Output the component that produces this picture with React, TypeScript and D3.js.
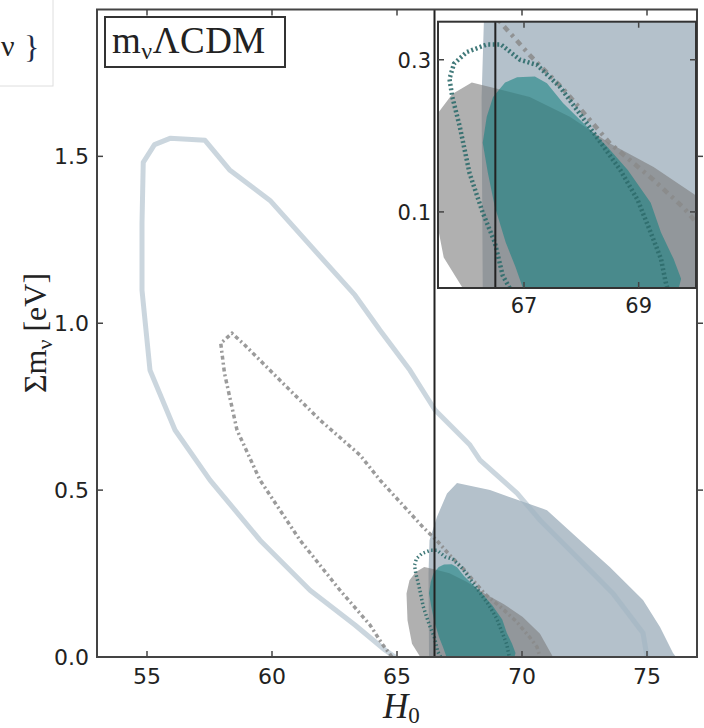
import React from "react";
import * as d3 from "d3";

// ---------- data (H0, sum m_nu) ----------
const xTicks = [55, 60, 65, 70, 75];
const yTicks = [0.0, 0.5, 1.0, 1.5];
const insetXTicks = [67, 69];
const insetYTicks = [0.1, 0.3];
const refH0 = 66.5;

// large light outline (open contour, clipped at zero)
const outerOutline: [number, number][] = [
  [64.92, 0], [64.52, 0.021], [63.32, 0.096], [61.52, 0.2], [59.52, 0.35], [57.52, 0.53],
  [56.12, 0.68], [55.12, 0.859], [54.8, 1.099], [54.8, 1.3], [54.85, 1.482], [55.3, 1.535],
  [55.92, 1.554], [57.32, 1.548], [58.32, 1.458], [59.92, 1.368], [61.52, 1.234], [63.32, 1.084],
  [64.32, 0.979], [65.52, 0.859], [66.52, 0.74], [67.92, 0.635], [68.32, 0.59], [69.8, 0.491],
  [70.72, 0.41], [72.32, 0.29], [73.64, 0.19], [74.84, 0.072], [75.0, 0],
];

// grey dash-dot contour
const greyDotted: [number, number][] = [
  [64.8, 0], [64.4, 0.04], [63.92, 0.096], [62.72, 0.2], [61.12, 0.35], [59.52, 0.53],
  [58.6, 0.68], [58.1, 0.85], [57.95, 0.94], [58.4, 0.97], [58.92, 0.934], [60.32, 0.829],
  [61.92, 0.71], [63.52, 0.605], [64.32, 0.53], [66.04, 0.389], [66.58, 0.35], [67.1, 0.306],
  [67.68, 0.262], [68.5, 0.19], [69.26, 0.142], [69.79, 0.105], [70.3, 0.06], [70.6, 0.03], [70.72, 0],
];

// dark teal dotted contour
const tealDotted: [number, number][] = [
  [66.75, 0], [66.63, 0.016], [66.49, 0.06], [66.28, 0.099], [66.05, 0.151], [65.88, 0.212],
  [65.75, 0.251], [65.7, 0.275], [65.78, 0.295], [66.0, 0.31], [66.35, 0.32], [66.6, 0.32],
  [66.93, 0.3], [67.23, 0.293], [67.63, 0.264], [68.1, 0.216], [68.68, 0.155], [68.98, 0.116],
  [69.21, 0.073], [69.39, 0.038], [69.47, 0.008], [69.5, 0],
];

// filled regions
const blueFill: [number, number][] = [
  [66.28, 0], [66.26, 0.25], [66.3, 0.35], [66.6, 0.42], [67.0, 0.49], [67.4, 0.521],
  [68.72, 0.5], [71.0, 0.44], [72.32, 0.35], [73.52, 0.269], [74.84, 0.171], [75.52, 0.09],
  [76.04, 0.012], [76.16, 0],
];
const greyFill: [number, number][] = [
  [65.93, 0], [65.6, 0.04], [65.42, 0.11], [65.38, 0.19], [65.5, 0.23], [65.75, 0.255],
  [66.09, 0.27], [66.53, 0.262], [67.1, 0.251], [67.8, 0.225], [68.5, 0.19], [69.26, 0.159],
  [70.03, 0.12], [70.72, 0.07], [71.24, 0],
];
const tealFill: [number, number][] = [
  [66.98, 0], [66.85, 0.028], [66.68, 0.06], [66.49, 0.107], [66.37, 0.151], [66.28, 0.191],
  [66.35, 0.225], [66.46, 0.251], [66.67, 0.27], [66.88, 0.277], [67.19, 0.278], [67.4, 0.269],
  [67.68, 0.243], [68.1, 0.212], [68.46, 0.185], [68.81, 0.155], [69.21, 0.112], [69.39, 0.073],
  [69.61, 0.038], [69.74, 0.012], [69.7, 0],
];

const W = 704;
const H = 728;

const x = d3.scaleLinear().domain([53, 77]).range([97, 697]);
const y = d3.scaleLinear().domain([0, 1.94]).range([657, 9.5]);
const xi = d3.scaleLinear().domain([65.5, 70.0]).range([438, 696]);
const yi = d3.scaleLinear().domain([0, 0.35]).range([288, 21.7]);

const tickFont = "DejaVu Sans, sans-serif";
const serif = "Liberation Serif, DejaVu Serif, serif";

type Style = { greyW: number; greyDash: string; tealW: number; tealDash: string };

function Layers({ sx, sy, st }: { sx: d3.ScaleLinear<number, number>; sy: d3.ScaleLinear<number, number>; st: Style }) {
  const line = d3.line<[number, number]>().x((d) => sx(d[0])).y((d) => sy(d[1]));
  const area = (pts: [number, number][]) => line(pts) + "Z";
  return (
    <g>
      <path d={area(blueFill)} fill="#b4c1cb" />
      <path d={area(greyFill)} fill="rgb(123,123,123)" fillOpacity={0.6} />
      <path d={area(tealFill)} fill="rgb(20,130,130)" fillOpacity={0.58} />
      <path d={line(outerOutline) || ""} fill="none" stroke="rgb(160,180,195)" strokeOpacity={0.55} strokeWidth={5} strokeLinejoin="round" />
      <path d={line(greyDotted) || ""} fill="none" stroke="#8a8a8a" strokeOpacity={0.85} strokeWidth={st.greyW} strokeDasharray={st.greyDash} />
      <path d={line(tealDotted) || ""} fill="none" stroke="#2d6b6b" strokeOpacity={0.9} strokeWidth={st.tealW} strokeDasharray={st.tealDash} />
    </g>
  );
}

const mainStyle: Style = { greyW: 3.5, greyDash: "4 3 2 3", tealW: 3.5, tealDash: "1.5 2.5" };
const insetStyle: Style = { greyW: 4.5, greyDash: "6 5 3 5", tealW: 4.5, tealDash: "2 2.5" };

export default function App() {
  const [x0, x1] = x.range();
  const [y0, y1] = y.range();
  const [ix0, ix1] = xi.range();
  const [iy0, iy1] = yi.range();
  return (
    <svg width={W} height={H} style={{ position: "absolute", left: 0, top: 0, background: "#fff" }}>
      <defs>
        <clipPath id="mainClip">
          <rect x={x0} y={y1} width={x1 - x0} height={y0 - y1} />
        </clipPath>
        <clipPath id="insetClip">
          <rect x={ix0} y={iy1} width={ix1 - ix0} height={iy0 - iy1} />
        </clipPath>
      </defs>

      {/* cropped fragment at top-left */}
      <rect x={-5} y={-5} width={58} height={91} fill="#fff" stroke="#dedede" strokeWidth={1} />
      <text x={1} y={56} fontFamily={serif} fontSize={30} fill="#222">ν</text>
      <text x={24} y={58} fontFamily={serif} fontSize={32} fill="#1c2b4a">{"}"}</text>

      {/* main plot */}
      <g clipPath="url(#mainClip)">
        <Layers sx={x} sy={y} st={mainStyle} />
      </g>
      <line x1={x(refH0)} x2={x(refH0)} y1={y1} y2={y0} stroke="#222" strokeWidth={2} />

      {/* main frame */}
      <rect x={x0} y={y1} width={x1 - x0} height={y0 - y1} fill="none" stroke="#444" strokeWidth={2} />
      {xTicks.map((t) => (
        <g key={"xt" + t}>
          <line x1={x(t)} x2={x(t)} y1={y0} y2={y0 - 6} stroke="#444" strokeWidth={1.5} />
          <line x1={x(t)} x2={x(t)} y1={y1} y2={y1 + 6} stroke="#444" strokeWidth={1.5} />
          <text x={x(t)} y={684} textAnchor="middle" fontFamily={tickFont} fontSize={22} fill="#222">{t}</text>
        </g>
      ))}
      {yTicks.map((t) => (
        <g key={"yt" + t}>
          <line x1={x0} x2={x0 + 6} y1={y(t)} y2={y(t)} stroke="#444" strokeWidth={1.5} />
          {t > 0 && <line x1={x1} x2={x1 + 6} y1={y(t)} y2={y(t)} stroke="#444" strokeWidth={1.5} />}
          <text x={89} y={y(t) + 8} textAnchor="end" fontFamily={tickFont} fontSize={22} fill="#222">{t.toFixed(1)}</text>
        </g>
      ))}

      {/* axis labels */}
      <text x={383} y={718} fontFamily={serif} fontStyle="italic" fontSize={35} fill="#222">
        H<tspan fontSize={23} dy={5} fontStyle="normal">0</tspan>
      </text>
      <text transform="translate(46,333) rotate(-90)" textAnchor="middle" fontFamily={serif} fontSize={32} fill="#222">
        Σm<tspan fontSize={22} dy={6}>ν</tspan><tspan dy={-6}> [eV]</tspan>
      </text>

      {/* title box */}
      <rect x={105} y={17} width={180} height={50} fill="#fff" stroke="#333" strokeWidth={2} />
      <text x={112} y={53} fontFamily={serif} fontSize={37} fill="#222" letterSpacing={0.5}>
        m<tspan fontSize={24} dy={6}>ν</tspan><tspan dy={-6}>ΛCDM</tspan>
      </text>

      {/* inset */}
      <rect x={ix0} y={iy1} width={ix1 - ix0} height={iy0 - iy1} fill="#fff" />
      <g clipPath="url(#insetClip)">
        <Layers sx={xi} sy={yi} st={insetStyle} />
      </g>
      <line x1={xi(refH0)} x2={xi(refH0)} y1={iy1} y2={iy0} stroke="#222" strokeWidth={2} />
      <rect x={ix0} y={iy1} width={ix1 - ix0} height={iy0 - iy1} fill="none" stroke="#333" strokeWidth={2} />
      {insetXTicks.map((t) => (
        <g key={"ixt" + t}>
          <line x1={xi(t)} x2={xi(t)} y1={iy0} y2={iy0 - 6} stroke="#444" strokeWidth={1.5} />
          <line x1={xi(t)} x2={xi(t)} y1={iy1} y2={iy1 + 6} stroke="#444" strokeWidth={1.5} />
          <text x={xi(t)} y={313} textAnchor="middle" fontFamily={tickFont} fontSize={21} fill="#222">{t}</text>
        </g>
      ))}
      {insetYTicks.map((t) => (
        <g key={"iyt" + t}>
          <line x1={ix0} x2={ix0 + 6} y1={yi(t)} y2={yi(t)} stroke="#444" strokeWidth={1.5} />
          <line x1={ix1} x2={ix1 - 6} y1={yi(t)} y2={yi(t)} stroke="#444" strokeWidth={1.5} />
          <text x={431} y={yi(t) + 8} textAnchor="end" fontFamily={tickFont} fontSize={21} fill="#222">{t.toFixed(1)}</text>
        </g>
      ))}
    </svg>
  );
}
